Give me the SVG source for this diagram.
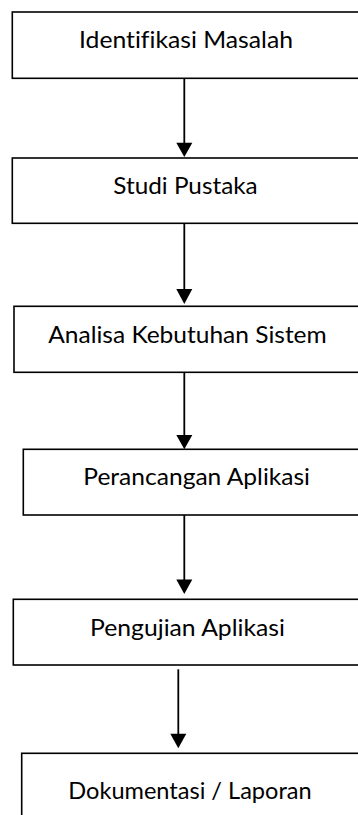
<svg xmlns="http://www.w3.org/2000/svg" width="358" height="815" viewBox="0 0 358 815">
<style>
.box{fill:#fff;stroke:#000;stroke-width:1.6}
.lbl{font-family:Lato,"Open Sans","Liberation Sans",sans-serif;font-size:23px;fill:#000;font-variant-ligatures:none}
.conn{stroke:#000;stroke-width:1.8;fill:none}
.head{fill:#000}
</style>
<rect width="358" height="815" fill="#fff"/>
<g id="n1"><rect class="box" x="12.3" y="12" width="360" height="66.3"/><text class="lbl" x="79" y="47.7" textLength="214" lengthAdjust="spacingAndGlyphs">Identifikasi Masalah</text></g>
<g id="n2"><rect class="box" x="12.3" y="158" width="360" height="65.3"/><text class="lbl" x="113.3" y="194.3" textLength="144.4" lengthAdjust="spacingAndGlyphs">Studi Pustaka</text></g>
<g id="n3"><rect class="box" x="14" y="306.3" width="360" height="66"/><text class="lbl" x="48.3" y="343.3" textLength="278.4" lengthAdjust="spacingAndGlyphs">Analisa Kebutuhan Sistem</text></g>
<g id="n4"><rect class="box" x="23.3" y="449.3" width="360" height="65.7"/><text class="lbl" x="83.3" y="485" textLength="226.7" lengthAdjust="spacingAndGlyphs">Perancangan Aplikasi</text></g>
<g id="n5"><rect class="box" x="13.3" y="599.3" width="360" height="65.7"/><text class="lbl" x="90" y="635.7" textLength="195" lengthAdjust="spacingAndGlyphs">Pengujian Aplikasi</text></g>
<g id="n6"><rect class="box" x="21.7" y="753.3" width="360" height="80"/><text class="lbl" x="68.3" y="799" textLength="243.4" lengthAdjust="spacingAndGlyphs">Dokumentasi / Laporan</text></g>
<g id="connectors">
<line class="conn" x1="184.3" y1="78.3" x2="184.3" y2="144"/><path class="head" d="M176.3,142.7 L192.3,142.7 L184.3,157 Z"/>
<line class="conn" x1="184.3" y1="223.3" x2="184.3" y2="290"/><path class="head" d="M176.3,289 L192.3,289 L184.3,304 Z"/>
<line class="conn" x1="184.3" y1="372.3" x2="184.3" y2="436"/><path class="head" d="M176.3,435 L192.3,435 L184.3,449.3 Z"/>
<line class="conn" x1="184.3" y1="515" x2="184.3" y2="581"/><path class="head" d="M176.3,579.5 L192.3,579.5 L184.3,594 Z"/>
<line class="conn" x1="178.3" y1="669.3" x2="178.3" y2="735"/><path class="head" d="M170.3,733.8 L186.3,733.8 L178.3,748.3 Z"/>
</g>
</svg>
